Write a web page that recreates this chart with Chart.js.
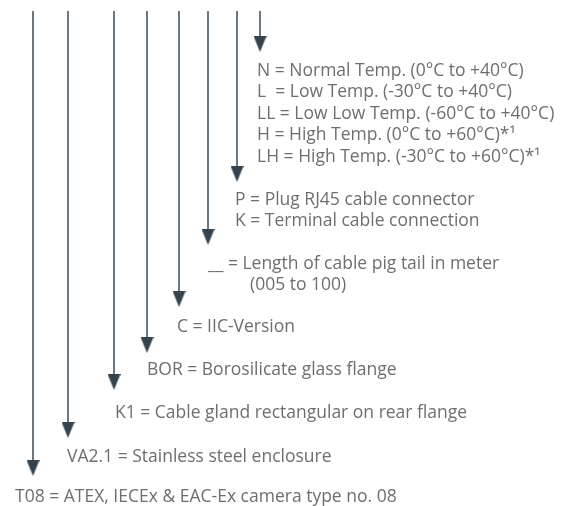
<!DOCTYPE html>
<html>
<head>
<meta charset="utf-8">
<script src="https://cdn.jsdelivr.net/npm/chart.js@4"></script>
<style>
  html, body { margin: 0; padding: 0; background: #fff; }
  #wrap { width: 578px; height: 506px; }
</style>
</head>
<body>
<div id="wrap"><canvas id="ctx" width="578" height="506"></canvas></div>
<script>
// Type code columns (left to right) and where each arrow stops
const codes = ['T08', 'VA2.1', 'K1', 'BOR', 'C', '__', 'P/K', 'N/L/LL/H/LH'];
const arrowX = [33, 68, 114, 147, 179, 208, 237, 260];
const arrowTop = 11;
const arrowTip = [476, 438, 390, 353, 307, 245, 182, 52];

// Description text for each column
const descriptions = [
  ['T08 = ATEX, IECEx & EAC-Ex camera type no. 08'],
  ['VA2.1 = Stainless steel enclosure'],
  ['K1 = Cable gland rectangular on rear flange'],
  ['BOR = Borosilicate glass flange'],
  ['C = IIC-Version'],
  ['__ = Length of cable pig tail in meter', '(005 to 100)'],
  ['P = Plug RJ45 cable connector', 'K = Terminal cable connection'],
  ['N = Normal Temp. (0°C to +40°C)',
   'L  = Low Temp. (-30°C to +40°C)',
   'LL = Low Low Temp. (-60°C to +40°C)',
   'H = High Temp. (0°C to +60°C)*¹',
   'LH = High Temp. (-30°C to +60°C)*¹']
];

// text layout (pixels)
const textX = [15, 67, 115, 147, 177, 208, 235, 257];
const textY = [497, 457, 413, 370, 327, 264, 200, 71];
const lineStep = [21.5, 21.5, 21.5, 21.5, 21.5, 21.5, 21, 21.5];
const secondIndent = { 5: 42 };

const headH = 16, headW = 13;
const head = document.createElement('canvas');
head.width = headW; head.height = headH;
const hc = head.getContext('2d');
hc.fillStyle = '#34434e';
hc.beginPath();
hc.moveTo(0, 0);
hc.lineTo(headW, 0);
hc.lineTo(headW / 2, headH);
hc.closePath();
hc.fill();

const datasets = codes.map((c, i) => ({
  label: c,
  data: [{ x: arrowX[i], y: arrowTop }, { x: arrowX[i], y: arrowTip[i] - headH / 2 }],
  showLine: true,
  borderColor: '#6b7780',
  borderWidth: 2,
  pointRadius: [0, 1],
  pointStyle: ['circle', head],
  clip: false
}));

const textPlugin = {
  id: 'descText',
  afterDatasetsDraw(chart) {
    const g = chart.ctx;
    const xs = chart.scales.x, ys = chart.scales.y;
    g.save();
    g.font = '17.5px "Open Sans"';
    g.fillStyle = '#6d6e70';
    g.textBaseline = 'middle';
    g.textAlign = 'left';
    descriptions.forEach((lines, i) => {
      lines.forEach((t, j) => {
        const ind = j > 0 && secondIndent[i] ? secondIndent[i] : 0;
        g.fillText(t, xs.getPixelForValue(textX[i] + ind), ys.getPixelForValue(textY[i] + j * lineStep[i]));
      });
    });
    g.restore();
  }
};

new Chart(document.getElementById('ctx'), {
  type: 'scatter',
  data: { datasets },
  options: {
    responsive: false,
    animation: false,
    devicePixelRatio: 1,
    layout: { padding: 0, autoPadding: false },
    plugins: { legend: { display: false }, tooltip: { enabled: false } },
    scales: {
      x: { type: 'linear', min: 0, max: 578, display: false },
      y: { type: 'linear', min: 0, max: 506, reverse: true, display: false }
    }
  },
  plugins: [textPlugin]
});
</script>
</body>
</html>
